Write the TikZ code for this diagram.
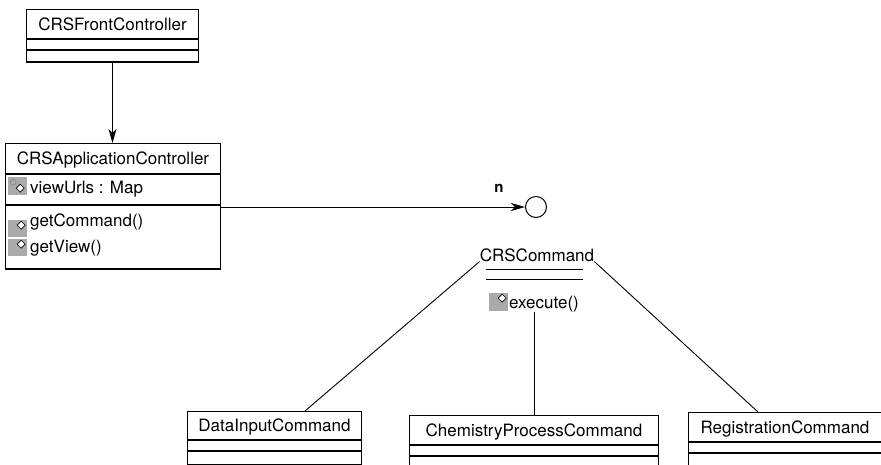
\documentclass[tikz,border=0pt]{standalone}
\usepackage{fontspec}
\setmainfont{TeX Gyre Heros}
\usetikzlibrary{arrows.meta}
\definecolor{icongray}{RGB}{170,170,170}
\tikzset{
    classname/.style={
        draw,
        line width=1pt,
        inner sep=0pt,
        anchor=north west,
        minimum height=29,
        text height=12pt,
        text depth=0pt
    },
    compart/.style={draw, line width=1pt, inner sep=0pt, anchor=north west},
    member/.style={inner sep=0pt, anchor=base west},
    % grey method icon with the small diamond top right
    opicon/.style={
        fill=icongray,
        inner sep=0pt,
        minimum width=19,
        minimum height=17,
        anchor=north west,
        path picture={
            \draw[line width=0.6pt, fill=white]
            ([xshift=-6pt,yshift=-5pt]path picture bounding box.north east)
            ++(0pt,4pt) -- ++(4pt,-4pt) -- ++(-4pt,-4pt) -- ++(-4pt,4pt) -- cycle;
        }
    },
    % attribute icon, diamond lower down and a key ring
    attricon/.style={
        fill=icongray,
        inner sep=0pt,
        minimum width=19,
        minimum height=18,
        anchor=north west,
        path picture={
            \draw[line width=0.5pt, gray] 
            ([xshift=5pt,yshift=-5pt]path picture bounding box.north west) circle (3pt);
            \draw[line width=0.7pt, fill=white]
            ([xshift=-7pt,yshift=-11pt]path picture bounding box.north east)
            ++(0pt,4pt) -- ++(4pt,-4pt) -- ++(-4pt,-4pt) -- ++(-4pt,4pt) -- cycle;
        }
    },
    linkline/.style={line width=0.9pt},
    navarrow/.style={
        line width=1pt,
        -{Stealth[length=14pt, width=8pt, inset=4pt]}
    }
}

\begin{document}
\begin{tikzpicture}[x=1pt,y=-1pt,font=\fontsize{17}{20}\selectfont]
    \clip (0,0) rectangle (881,464);

    % front controller
    \node[classname, minimum width=172] (front) at (26,9) {CRSFrontController};
    \node[compart, minimum width=172, minimum height=10] (frontattr) at (front.south west) {};
    \node[compart, minimum width=172, minimum height=11] (frontops) at (frontattr.south west) {};
    \draw[line width=2pt] (frontops.south west) -- (frontops.south east);

    % application controller
    \node[classname, minimum width=215, minimum height=30] (app) at (5,143) {CRSApplicationController};
    \node[compart, minimum width=215, minimum height=30] (appattr) at (app.south west) {};
    \node[compart, minimum width=215, minimum height=63] (appops) at (appattr.south west) {};
    \draw[line width=1.8pt] (appops.south west) -- (appops.south east);
    \node[attricon] (urlsicon) at (8,177) {};
    \node[member] (urls) at (30,193) {viewUrls : Map};
    \node[opicon] (cmdicon) at (8,220) {};
    \node[member] (getcmd) at (30,226) {getCommand()};
    \node[opicon] (viewicon) at (8,239) {};
    \node[member] (getview) at (30,252) {getView()};

    \draw[navarrow] (frontops.south) -- (frontops.south |- app.north);

    % command interface
    \node[draw, circle, line width=1pt, minimum size=21, inner sep=0pt] (iface) at (536,207) {};
    \draw[navarrow] (iface.west -| appops.east) -- (iface.west);
    \node[font=\bfseries\fontsize{15}{18}\selectfont] (mult) at (499,188) {n};

    \node[inner sep=0pt, anchor=base] (cmd) at (537,261) {CRSCommand};
    \draw[line width=1pt] (486,269) -- (583,269) (486,279) -- (583,279);
    \node[opicon, minimum height=18] (execicon) at (489,293) {};
    \node[member] (exec) at (509,308) {execute()};

    % concrete commands
    \node[classname, minimum width=174, minimum height=28] (data) at (187,411) {DataInputCommand};
    \node[compart, minimum width=174, minimum height=10] (dataattr) at (data.south west) {};
    \node[compart, minimum width=174, minimum height=13] (dataops) at (dataattr.south west) {};
    \draw[line width=2pt] (dataops.south west) -- (dataops.south east);

    \node[classname, minimum width=249] (chem) at (409,415) {ChemistryProcessCommand};
    \node[compart, minimum width=249, minimum height=10] (chemattr) at (chem.south west) {};
    \node[compart, minimum width=249, minimum height=20] (chemops) at (chemattr.south west) {};

    \node[classname, minimum width=193] (reg) at (688,412) {RegistrationCommand};
    \node[compart, minimum width=193, minimum height=10] (regattr) at (reg.south west) {};
    \node[compart, minimum width=193, minimum height=20] (regops) at (regattr.south west) {};

    \draw[linkline] (cmd.south west) -- ([xshift=-57pt]data.north east);
    \draw[linkline] (exec.south -| chem.north) -- (chem.north);
    \draw[linkline] (cmd.south east) -- ([xshift=-27pt]reg.north);
\end{tikzpicture}
\end{document}
